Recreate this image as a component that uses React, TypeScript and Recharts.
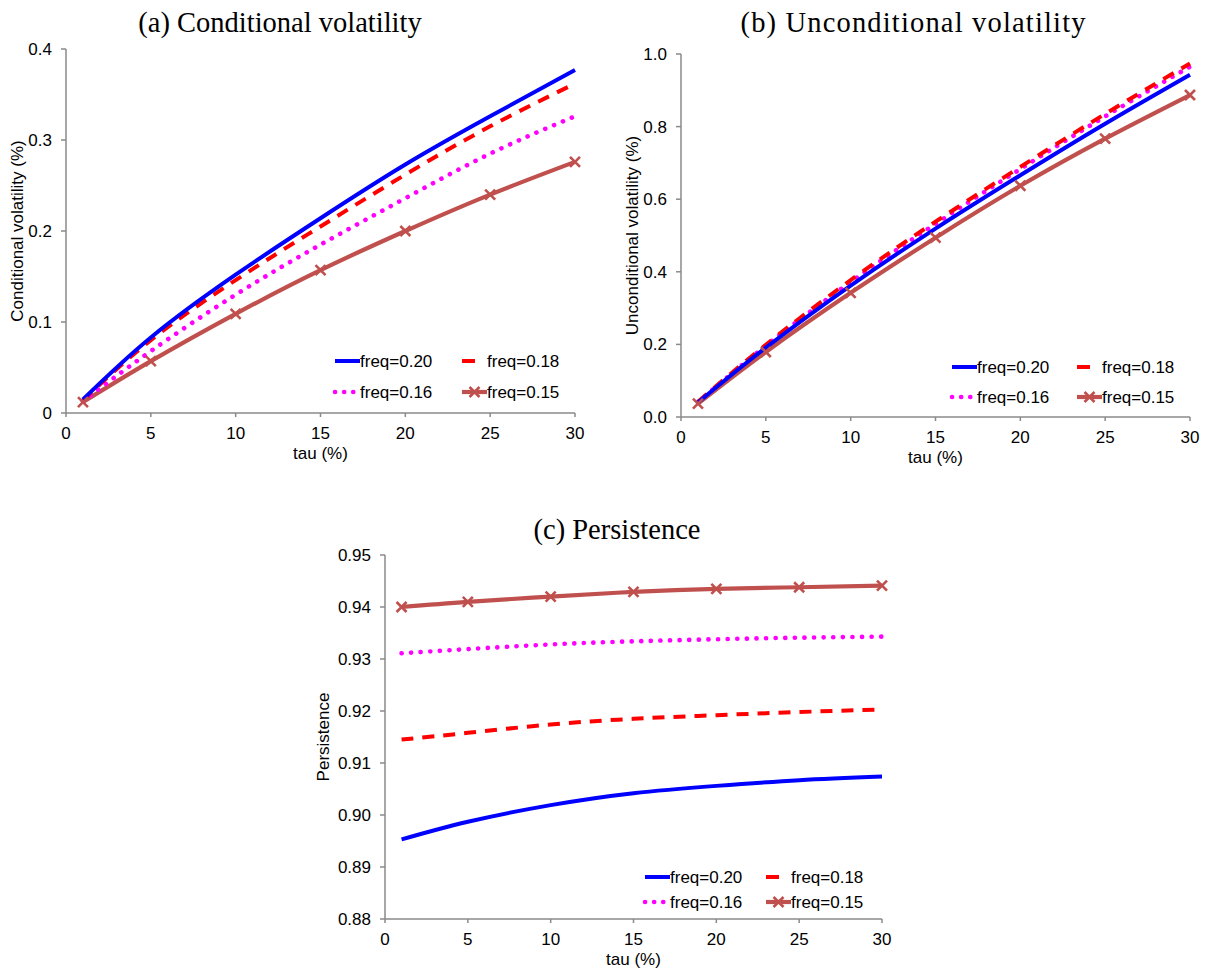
import React from 'react';
import { LineChart, Line, XAxis, YAxis, Label } from 'recharts';

// ---------- data ----------
const tau = [1, 5, 10, 15, 20, 25, 30];
const seriesNames = ['freq=0.20', 'freq=0.18', 'freq=0.16', 'freq=0.15'];

const condVol020 = [0.015, 0.083, 0.152, 0.214, 0.273, 0.326, 0.377];
const condVol018 = [0.014, 0.080, 0.146, 0.205, 0.262, 0.315, 0.362];
const condVol016 = [0.013, 0.068, 0.130, 0.185, 0.236, 0.285, 0.326];
const condVol015 = [0.012, 0.057, 0.109, 0.157, 0.200, 0.240, 0.276];

const uncVol020 = [0.040, 0.191, 0.362, 0.519, 0.666, 0.808, 0.943];
const uncVol018 = [0.042, 0.199, 0.377, 0.538, 0.689, 0.835, 0.974];
const uncVol016 = [0.041, 0.196, 0.372, 0.532, 0.683, 0.828, 0.965];
const uncVol015 = [0.037, 0.179, 0.342, 0.494, 0.637, 0.767, 0.887];

const pers020 = [0.8953, 0.8987, 0.9019, 0.9042, 0.9056, 0.9067, 0.9074];
const pers018 = [0.9145, 0.9158, 0.9174, 0.9185, 0.9192, 0.9198, 0.9203];
const pers016 = [0.9311, 0.9319, 0.9328, 0.9334, 0.9338, 0.9341, 0.9343];
const pers015 = [0.9400, 0.9410, 0.9420, 0.9429, 0.9435, 0.9438, 0.9441];

const xTicks = [0, 5, 10, 15, 20, 25, 30];
const condTicks = [0, 0.1, 0.2, 0.3, 0.4];
const uncTicks = [0, 0.2, 0.4, 0.6, 0.8, 1.0];
const persTicks = [0.88, 0.89, 0.9, 0.91, 0.92, 0.93, 0.94, 0.95];

// ---------- styles ----------
const BLUE = '#0000FF';
const RED = '#FF0000';
const MAGENTA = '#FF00FF';
const BROWN = '#C0504D';
const AXIS = '#8a8a8a';
const SANS = '"Liberation Sans", Arial, sans-serif';
const SERIF = '"Liberation Serif", "Times New Roman", serif';
const FS = 17;

const build = (a: number[], b: number[], c: number[], d: number[]) =>
  tau.map((t, i) => ({ tau: t, f20: a[i], f18: b[i], f16: c[i], f15: d[i] }));

const condData = build(condVol020, condVol018, condVol016, condVol015);
const uncData = build(uncVol020, uncVol018, uncVol016, uncVol015);
const persData = build(pers020, pers018, pers016, pers015);

const XMark = (props: any) => {
  const { cx, cy, index } = props;
  if (cx == null || cy == null) return <g key={`xm-${index}`} />;
  const s = 5;
  return (
    <path
      key={`xm-${index}`}
      d={`M${cx - s},${cy - s}L${cx + s},${cy + s}M${cx - s},${cy + s}L${cx + s},${cy - s}`}
      stroke={BROWN}
      strokeWidth={2.6}
      fill="none"
    />
  );
};

type PanelProps = {
  left: number;
  top: number;
  width: number;
  height: number;
  margin: { top: number; right: number; bottom: number; left: number };
  yWidth: number;
  xHeight: number;
  data: any[];
  yDomain: [number, number];
  yTicks: number[];
  yFmt: (v: number) => string;
  yLabel: string;
  yLabelOff: number;
};

const Panel = (p: PanelProps) => (
  <div style={{ position: 'absolute', left: p.left, top: p.top, width: p.width, height: p.height }}>
    <LineChart width={p.width} height={p.height} data={p.data} margin={p.margin}>
      <XAxis
        dataKey="tau"
        type="number"
        domain={[0, 30]}
        ticks={xTicks}
        interval={0}
        height={p.xHeight}
        tickSize={4}
        tickMargin={10}
        axisLine={{ stroke: AXIS, strokeWidth: 1.5 }}
        tickLine={{ stroke: AXIS, strokeWidth: 1.5 }}
        tick={{ fontSize: FS, fill: '#000', fontFamily: SANS }}
      >
        <Label
          content={(lp: any) => {
            const vb = lp.viewBox;
            return (
              <text
                x={vb.x + vb.width / 2}
                y={vb.y + 40.5}
                textAnchor="middle"
                dominantBaseline="central"
                fontSize={FS}
                fontFamily={SANS}
                fill="#000"
              >
                tau (%)
              </text>
            );
          }}
        />
      </XAxis>
      <YAxis
        type="number"
        domain={p.yDomain}
        ticks={p.yTicks}
        interval={0}
        width={p.yWidth}
        tickSize={5}
        tickMargin={9}
        tickFormatter={p.yFmt}
        axisLine={{ stroke: AXIS, strokeWidth: 1.5 }}
        tickLine={{ stroke: AXIS, strokeWidth: 1.5 }}
        tick={{ fontSize: FS, fill: '#000', fontFamily: SANS }}
      >
        <Label
          content={(lp: any) => {
            const vb = lp.viewBox;
            const cx = vb.x + vb.width - p.yLabelOff;
            const cy = vb.y + vb.height / 2;
            return (
              <text
                x={cx}
                y={cy}
                transform={`rotate(-90 ${cx} ${cy})`}
                textAnchor="middle"
                dominantBaseline="central"
                fontSize={FS}
                fontFamily={SANS}
                fill="#000"
              >
                {p.yLabel}
              </text>
            );
          }}
        />
      </YAxis>
      <Line type="natural" dataKey="f15" name={seriesNames[3]} stroke={BROWN} strokeWidth={4.2} dot={XMark} activeDot={false} isAnimationActive={false} />
      <Line type="natural" dataKey="f16" name={seriesNames[2]} stroke={MAGENTA} strokeWidth={4.6} strokeDasharray="0.1 9.5" strokeLinecap="round" dot={false} activeDot={false} isAnimationActive={false} />
      <Line type="natural" dataKey="f18" name={seriesNames[1]} stroke={RED} strokeWidth={4} strokeDasharray="12 9" dot={false} activeDot={false} isAnimationActive={false} />
      <Line type="natural" dataKey="f20" name={seriesNames[0]} stroke={BLUE} strokeWidth={4} dot={false} activeDot={false} isAnimationActive={false} />
    </LineChart>
  </div>
);

// legend overlay (not data marks)
const LegendBlock = ({ x1, x2, y1, y2 }: { x1: number; x2: number; y1: number; y2: number }) => {
  const L = 25;
  const txt = (x: number, y: number, s: string) => (
    <text x={x} y={y} dominantBaseline="central" fontSize={FS} fontFamily={SANS} fill="#000">
      {s}
    </text>
  );
  const m = x2 + L / 2;
  return (
    <g>
      <line x1={x1} y1={y1} x2={x1 + L} y2={y1} stroke={BLUE} strokeWidth={4} />
      {txt(x1 + L, y1, seriesNames[0])}
      <line x1={x2} y1={y1} x2={x2 + L} y2={y1} stroke={RED} strokeWidth={4} strokeDasharray="13 20" />
      {txt(x2 + L, y1, ' ' + seriesNames[1])}
      <line x1={x1} y1={y2} x2={x1 + L} y2={y2} stroke={MAGENTA} strokeWidth={4.6} strokeDasharray="0.1 9" strokeLinecap="round" />
      {txt(x1 + L, y2, seriesNames[2])}
      <line x1={x2} y1={y2} x2={x2 + L} y2={y2} stroke={BROWN} strokeWidth={4.2} />
      <path d={`M${m - 5},${y2 - 5}L${m + 5},${y2 + 5}M${m - 5},${y2 + 5}L${m + 5},${y2 - 5}`} stroke={BROWN} strokeWidth={2.6} />
      {txt(x2 + L, y2, seriesNames[3])}
    </g>
  );
};

const fmt1 = (v: number) => (v === 0 ? '0' : v.toFixed(1));
const fmt1b = (v: number) => v.toFixed(1);
const fmt2 = (v: number) => v.toFixed(2);

export default function App() {
  return (
    <div style={{ position: 'absolute', left: 0, top: 0, width: 1209, height: 974, background: '#fff', overflow: 'hidden' }}>
      <Panel
        left={0}
        top={0}
        width={600}
        height={470}
        margin={{ top: 49, right: 25, bottom: 0, left: 0 }}
        yWidth={66}
        xHeight={57}
        data={condData}
        yDomain={[0, 0.4]}
        yTicks={condTicks}
        yFmt={fmt1}
        yLabel="Conditional volatility (%)"
        yLabelOff={49}
      />
      <Panel
        left={600}
        top={0}
        width={609}
        height={470}
        margin={{ top: 54, right: 19, bottom: 0, left: 0 }}
        yWidth={81}
        xHeight={53}
        data={uncData}
        yDomain={[0, 1]}
        yTicks={uncTicks}
        yFmt={fmt1b}
        yLabel="Unconditional volatility (%)"
        yLabelOff={49}
      />
      <Panel
        left={300}
        top={480}
        width={620}
        height={494}
        margin={{ top: 75, right: 38, bottom: 0, left: 0 }}
        yWidth={85}
        xHeight={55}
        data={persData}
        yDomain={[0.88, 0.95]}
        yTicks={persTicks}
        yFmt={fmt2}
        yLabel="Persistence"
        yLabelOff={62}
      />
      <svg width={1209} height={974} style={{ position: 'absolute', left: 0, top: 0, pointerEvents: 'none' }}>
        <text x={280} y={22.5} textAnchor="middle" dominantBaseline="central" fontSize={28.5} fontFamily={SERIF} fill="#000">
          (a) Conditional volatility
        </text>
        <text x={913} y={22.5} textAnchor="middle" dominantBaseline="central" fontSize={28.5} fontFamily={SERIF} fill="#000" textLength={345} lengthAdjust="spacing">
          (b) Unconditional volatility
        </text>
        <text x={617} y={529.5} textAnchor="middle" dominantBaseline="central" fontSize={28.5} fontFamily={SERIF} fill="#000">
          (c) Persistence
        </text>
        <LegendBlock x1={335} x2={462} y1={361} y2={392} />
        <LegendBlock x1={952} x2={1077} y1={367} y2={397} />
        <LegendBlock x1={645} x2={766} y1={877} y2={902} />
      </svg>
    </div>
  );
}
